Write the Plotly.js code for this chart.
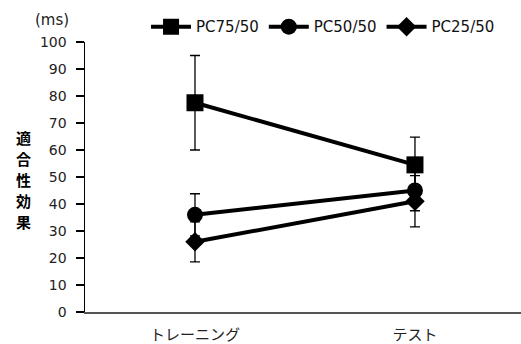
<!DOCTYPE html>
<html><head><meta charset="utf-8">
<script src="https://cdn.plot.ly/plotly-3.0.1.min.js"></script>
<style>html,body{margin:0;padding:0;background:#fff}</style>
</head><body><div id="chart" style="width:521px;height:344px"></div>
<script>
const categories = ["トレーニング", "テスト"];
const seriesNames = ["PC75/50", "PC50/50", "PC25/50"];
const pc75 = [77.5, 54.5];
const pc75err = [17.5, 10.3];
const pc50 = [36, 45];
const pc50err = [7.8, 7.5];
const pc25 = [26, 41];
const pc25err = [7.4, 9.5];
const yTicks = [0,10,20,30,40,50,60,70,80,90,100];
const yTitleChars = ["適", "合", "性", "効", "果"];

const symbols = ["square", "circle", "diamond"];
const sizes = [17, 16, 15];
const vals = [pc75, pc50, pc25];
const errs = [pc75err, pc50err, pc25err];

const traces = vals.map((v, i) => ({
  type: "scatter", mode: "lines+markers", name: seriesNames[i],
  x: categories, y: v,
  line: {color: "#000", width: 4},
  marker: {symbol: symbols[i], size: sizes[i], color: "#000"},
  error_y: {type: "data", array: errs[i], visible: true, color: "#000", thickness: 1.3, width: 5}
}));

const charCenters = [137, 158, 179, 200, 221];
const titleAnns = yTitleChars.map((c, i) => ({
  text: c, xref: "paper", yref: "paper", x: -0.142, y: (312 - charCenters[i]) / 270,
  xanchor: "center", yanchor: "middle", showarrow: false,
  font: {size: 15, family: "Noto Sans CJK JP", color: "#000", weight: 700}
}));

const layout = {
  width: 521, height: 344,
  margin: {l: 85, r: 0, t: 42, b: 32},
  paper_bgcolor: "#fff", plot_bgcolor: "#fff",
  font: {family: "DejaVu Sans, sans-serif", color: "#111", size: 14},
  showlegend: true,
  legend: {orientation: "h", x: 0.14, xanchor: "left", y: 1.056, yanchor: "middle",
           font: {size: 15, family: "DejaVu Sans, sans-serif", color: "#111"},
           itemwidth: 40, tracegroupgap: 0, bgcolor: "rgba(0,0,0,0)"},
  xaxis: {type: "category", range: [-0.5, 1.482], showline: true, linecolor: "#555", linewidth: 1.5,
          ticks: "", showgrid: false, zeroline: false, ticklabelstandoff: 8,
          tickfont: {family: "Noto Sans CJK JP", size: 15, color: "#222"}},
  yaxis: {range: [0, 100], tickvals: yTicks, showline: true, linecolor: "#000", linewidth: 1.5,
          ticks: "outside", ticklen: 8, tickwidth: 1.5, tickcolor: "#000", showgrid: false, zeroline: false,
          tickfont: {size: 14, color: "#222"}, ticklabelstandoff: 6},
  annotations: [
    {text: "(ms)", xref: "paper", yref: "paper", x: -0.076, y: 1.081, xanchor: "center", yanchor: "middle",
     showarrow: false, font: {size: 15, color: "#222"}}
  ].concat(titleAnns)
};
Plotly.newPlot("chart", traces, layout, {staticPlot: true, displayModeBar: false});
</script></body></html>
